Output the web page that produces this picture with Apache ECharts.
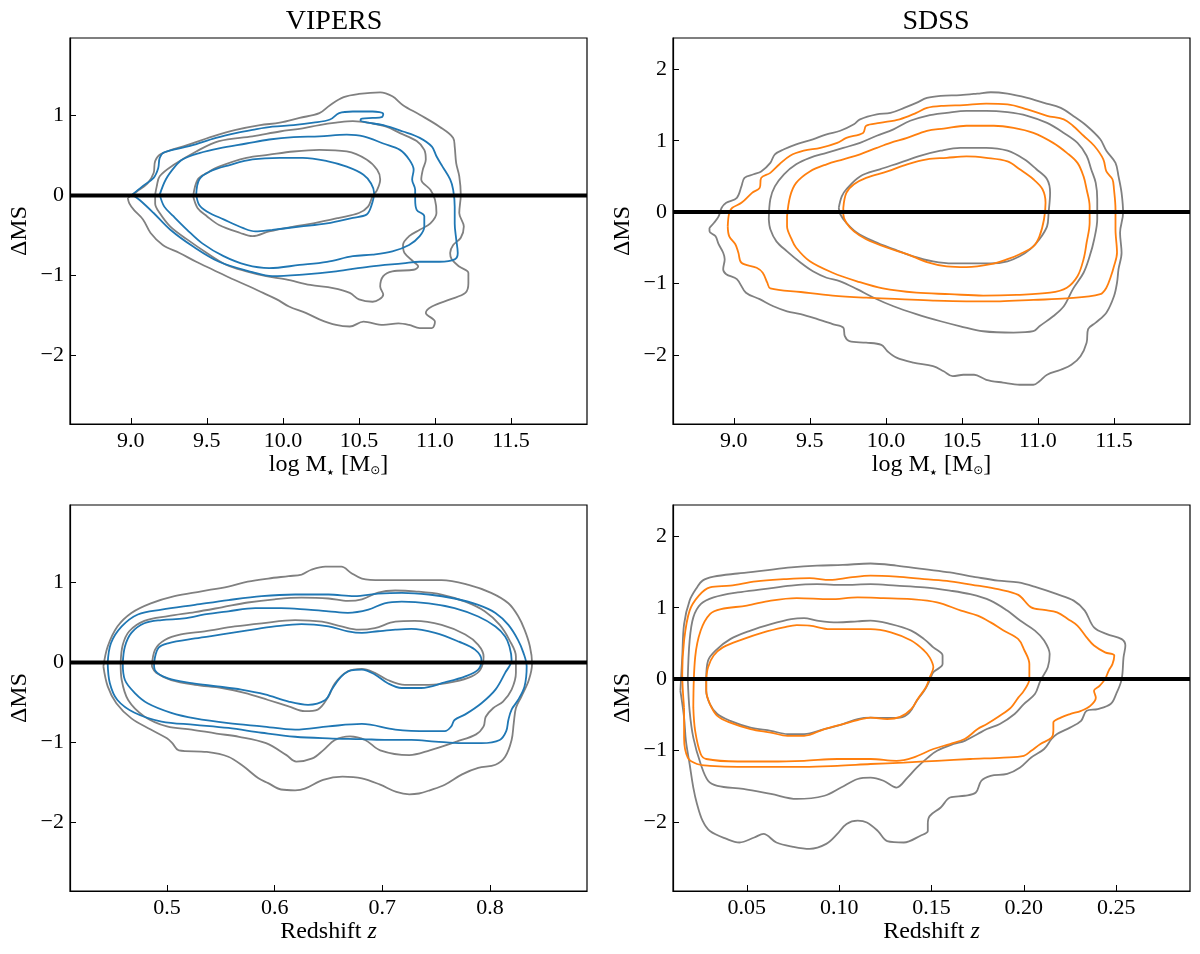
<!DOCTYPE html>
<html>
<head>
<meta charset="utf-8">
<title>Delta MS contours</title>
<script src="https://cdn.jsdelivr.net/npm/echarts@6/dist/echarts.min.js"></script>
<style>
  html, body { margin: 0; padding: 0; background: #fff; }
  #main { width: 1200px; height: 954px; }
</style>
</head>
<body>
<div id="main"></div>
<script>
// tick values
var massTicks = [9.0, 9.5, 10.0, 10.5, 11.0, 11.5];
var vipersZTicks = [0.5, 0.6, 0.7, 0.8];
var sdssZTicks = [0.05, 0.10, 0.15, 0.20, 0.25];
var vipersMsTicks = [-2, -1, 0, 1];
var sdssMsTicks = [-2, -1, 0, 1, 2];

// VIPERS, stellar mass (gray = outer/middle/inner, blue = outer/middle/inner)
var vMassGray1 = [[8.98,-0.03],[9.04,0.05],[9.11,0.15],[9.15,0.28],[9.16,0.43],[9.20,0.52],[9.37,0.63],[9.54,0.74],[9.69,0.82],[9.85,0.88],[9.98,0.91],[10.11,0.97],[10.24,1.03],[10.31,1.13],[10.40,1.23],[10.50,1.27],[10.64,1.29],[10.72,1.24],[10.79,1.13],[10.90,1.01],[11.03,0.86],[11.12,0.72],[11.13,0.61],[11.14,0.40],[11.16,0.24],[11.17,0.01],[11.16,-0.22],[11.19,-0.39],[11.17,-0.53],[11.12,-0.62],[11.10,-0.72],[11.11,-0.80],[11.16,-0.89],[11.22,-0.97],[11.22,-1.10],[11.20,-1.22],[11.10,-1.30],[10.98,-1.39],[10.94,-1.47],[11.00,-1.58],[10.98,-1.66],[10.90,-1.66],[10.83,-1.62],[10.76,-1.60],[10.66,-1.62],[10.53,-1.58],[10.44,-1.64],[10.35,-1.62],[10.24,-1.55],[10.15,-1.47],[10.04,-1.39],[9.96,-1.30],[9.87,-1.22],[9.78,-1.14],[9.65,-1.03],[9.54,-0.93],[9.43,-0.83],[9.32,-0.72],[9.21,-0.62],[9.13,-0.47],[9.08,-0.30],[9.02,-0.18],[8.99,-0.10]];
var vMassGray2 = [[9.16,0.01],[9.17,0.11],[9.19,0.24],[9.28,0.38],[9.43,0.55],[9.58,0.68],[9.80,0.74],[9.98,0.80],[10.13,0.84],[10.24,0.88],[10.35,0.91],[10.46,0.93],[10.59,0.90],[10.68,0.86],[10.77,0.78],[10.88,0.68],[10.93,0.57],[10.94,0.45],[10.92,0.32],[10.91,0.20],[10.97,0.07],[11.00,-0.05],[11.01,-0.22],[10.97,-0.35],[10.90,-0.43],[10.83,-0.51],[10.79,-0.62],[10.80,-0.72],[10.86,-0.83],[10.89,-0.89],[10.86,-0.93],[10.72,-0.95],[10.66,-1.01],[10.64,-1.14],[10.66,-1.24],[10.59,-1.33],[10.50,-1.30],[10.44,-1.22],[10.33,-1.16],[10.18,-1.12],[10.02,-1.05],[9.89,-1.01],[9.76,-0.95],[9.63,-0.87],[9.50,-0.72],[9.37,-0.55],[9.26,-0.39],[9.19,-0.22],[9.16,-0.10]];
var vMassGray3 = [[9.41,-0.01],[9.44,0.20],[9.50,0.28],[9.58,0.36],[9.76,0.47],[9.91,0.51],[10.07,0.55],[10.24,0.57],[10.42,0.55],[10.55,0.45],[10.62,0.32],[10.64,0.20],[10.62,0.07],[10.59,-0.01],[10.56,-0.14],[10.50,-0.22],[10.37,-0.28],[10.20,-0.35],[10.07,-0.39],[9.91,-0.45],[9.80,-0.51],[9.72,-0.47],[9.58,-0.37],[9.50,-0.26],[9.44,-0.16]];
var vMassBlue1 = [[9.01,0.01],[9.08,0.12],[9.15,0.22],[9.18,0.34],[9.19,0.47],[9.22,0.54],[9.39,0.62],[9.56,0.72],[9.69,0.78],[9.80,0.82],[9.93,0.86],[10.07,0.88],[10.20,0.91],[10.31,0.95],[10.37,1.03],[10.46,1.05],[10.59,1.05],[10.66,1.02],[10.65,0.98],[10.59,0.97],[10.52,0.96],[10.51,0.94],[10.56,0.91],[10.66,0.88],[10.79,0.80],[10.90,0.72],[10.98,0.61],[11.01,0.49],[11.05,0.36],[11.10,0.20],[11.12,0.07],[11.13,-0.14],[11.13,-0.35],[11.14,-0.55],[11.15,-0.72],[11.13,-0.80],[11.03,-0.83],[10.90,-0.83],[10.79,-0.85],[10.57,-0.89],[10.35,-0.95],[10.13,-0.99],[9.93,-1.01],[9.80,-0.96],[9.58,-0.83],[9.41,-0.64],[9.26,-0.43],[9.15,-0.22],[9.06,-0.06]];
var vMassBlue2 = [[9.19,0.01],[9.23,0.20],[9.29,0.36],[9.34,0.45],[9.45,0.53],[9.58,0.59],[9.76,0.65],[9.91,0.70],[10.07,0.73],[10.24,0.74],[10.42,0.76],[10.53,0.74],[10.66,0.65],[10.77,0.57],[10.83,0.45],[10.86,0.32],[10.85,0.20],[10.87,0.07],[10.87,-0.05],[10.88,-0.18],[10.93,-0.26],[10.93,-0.39],[10.90,-0.51],[10.83,-0.62],[10.72,-0.70],[10.59,-0.74],[10.46,-0.76],[10.29,-0.83],[10.11,-0.87],[9.91,-0.91],[9.76,-0.87],[9.61,-0.76],[9.47,-0.60],[9.37,-0.43],[9.28,-0.26],[9.22,-0.14]];
var vMassBlue3 = [[9.43,0.01],[9.45,0.20],[9.52,0.30],[9.65,0.38],[9.80,0.45],[9.98,0.47],[10.13,0.47],[10.29,0.43],[10.42,0.36],[10.53,0.26],[10.58,0.15],[10.60,0.03],[10.58,-0.14],[10.55,-0.24],[10.46,-0.28],[10.29,-0.35],[10.11,-0.39],[9.93,-0.43],[9.82,-0.45],[9.74,-0.41],[9.61,-0.30],[9.50,-0.20],[9.45,-0.12]];

// SDSS, stellar mass (gray, orange)
var sMassGray1 = [[8.84,-0.22],[8.87,-0.15],[8.90,-0.06],[8.92,0.06],[8.95,0.13],[9.02,0.20],[9.05,0.36],[9.07,0.48],[9.13,0.53],[9.18,0.57],[9.24,0.69],[9.27,0.81],[9.33,0.88],[9.41,0.95],[9.52,1.02],[9.61,1.09],[9.70,1.14],[9.79,1.23],[9.83,1.30],[9.94,1.37],[10.03,1.39],[10.12,1.46],[10.20,1.53],[10.27,1.60],[10.36,1.63],[10.49,1.64],[10.60,1.66],[10.69,1.68],[10.80,1.66],[10.93,1.60],[11.04,1.53],[11.15,1.46],[11.23,1.35],[11.32,1.21],[11.41,1.02],[11.45,0.86],[11.51,0.69],[11.53,0.50],[11.55,0.27],[11.56,-0.01],[11.54,-0.29],[11.55,-0.57],[11.53,-0.80],[11.52,-0.99],[11.50,-1.18],[11.45,-1.41],[11.38,-1.55],[11.33,-1.64],[11.32,-1.83],[11.28,-2.02],[11.22,-2.14],[11.15,-2.21],[11.06,-2.28],[11.01,-2.37],[10.97,-2.42],[10.88,-2.42],[10.77,-2.39],[10.66,-2.35],[10.58,-2.28],[10.51,-2.28],[10.44,-2.30],[10.38,-2.23],[10.31,-2.16],[10.18,-2.11],[10.07,-2.04],[10.01,-1.95],[9.97,-1.86],[9.87,-1.83],[9.76,-1.81],[9.73,-1.74],[9.72,-1.62],[9.65,-1.57],[9.55,-1.50],[9.44,-1.43],[9.35,-1.39],[9.26,-1.32],[9.17,-1.22],[9.08,-1.13],[9.02,-0.94],[8.95,-0.87],[8.93,-0.80],[8.94,-0.66],[8.93,-0.57],[8.90,-0.45],[8.88,-0.34],[8.84,-0.27]];
var sMassGray2 = [[9.23,-0.10],[9.24,0.18],[9.27,0.36],[9.33,0.53],[9.41,0.67],[9.50,0.76],[9.61,0.83],[9.72,0.90],[9.83,0.97],[9.94,1.07],[10.05,1.16],[10.16,1.28],[10.27,1.35],[10.40,1.39],[10.53,1.42],[10.66,1.42],[10.80,1.40],[10.93,1.35],[11.06,1.25],[11.17,1.11],[11.26,0.97],[11.32,0.79],[11.35,0.60],[11.38,0.41],[11.39,0.18],[11.39,-0.10],[11.37,-0.38],[11.34,-0.62],[11.30,-0.85],[11.23,-1.08],[11.17,-1.32],[11.10,-1.46],[11.01,-1.60],[10.97,-1.67],[10.84,-1.69],[10.64,-1.67],[10.49,-1.60],[10.36,-1.53],[10.20,-1.43],[10.05,-1.32],[9.92,-1.20],[9.81,-1.08],[9.70,-0.97],[9.61,-0.92],[9.52,-0.83],[9.44,-0.71],[9.35,-0.55],[9.28,-0.41],[9.24,-0.24]];
var sMassGray3 = [[9.69,0.06],[9.71,0.22],[9.74,0.32],[9.83,0.50],[9.96,0.60],[10.09,0.69],[10.23,0.79],[10.36,0.86],[10.49,0.90],[10.66,0.90],[10.80,0.86],[10.91,0.74],[10.99,0.60],[11.06,0.46],[11.08,0.27],[11.07,-0.01],[11.06,-0.20],[11.01,-0.38],[10.95,-0.52],[10.88,-0.62],[10.80,-0.69],[10.69,-0.72],[10.58,-0.72],[10.44,-0.72],[10.31,-0.69],[10.18,-0.62],[10.05,-0.52],[9.92,-0.41],[9.81,-0.29],[9.74,-0.15],[9.70,-0.03]];
var sMassOrange1 = [[8.96,-0.20],[8.97,-0.01],[8.99,0.06],[9.05,0.13],[9.12,0.27],[9.17,0.34],[9.18,0.48],[9.24,0.55],[9.30,0.67],[9.37,0.79],[9.46,0.86],[9.57,0.90],[9.68,0.97],[9.74,1.04],[9.85,1.11],[9.87,1.21],[9.96,1.25],[10.09,1.30],[10.20,1.39],[10.27,1.46],[10.38,1.49],[10.51,1.50],[10.66,1.52],[10.80,1.51],[10.93,1.44],[11.06,1.35],[11.17,1.30],[11.23,1.21],[11.30,1.07],[11.37,0.93],[11.43,0.74],[11.45,0.57],[11.49,0.46],[11.50,0.32],[11.51,0.04],[11.51,-0.24],[11.52,-0.57],[11.50,-0.76],[11.48,-0.90],[11.45,-1.06],[11.41,-1.15],[11.19,-1.21],[10.97,-1.23],[10.75,-1.25],[10.53,-1.25],[10.31,-1.24],[10.09,-1.22],[9.87,-1.20],[9.65,-1.17],[9.44,-1.12],[9.24,-1.07],[9.22,-0.99],[9.19,-0.85],[9.15,-0.78],[9.05,-0.71],[9.03,-0.57],[9.01,-0.45],[8.97,-0.34]];
var sMassOrange2 = [[9.35,-0.06],[9.37,0.22],[9.41,0.41],[9.50,0.57],[9.61,0.67],[9.72,0.74],[9.83,0.81],[9.94,0.90],[10.03,0.97],[10.14,1.04],[10.27,1.14],[10.38,1.17],[10.53,1.21],[10.71,1.21],[10.84,1.18],[10.97,1.11],[11.10,0.97],[11.19,0.83],[11.26,0.69],[11.30,0.50],[11.32,0.32],[11.34,0.08],[11.34,-0.15],[11.32,-0.43],[11.30,-0.66],[11.26,-0.90],[11.19,-1.06],[11.08,-1.13],[10.86,-1.16],[10.64,-1.17],[10.42,-1.15],[10.20,-1.13],[9.98,-1.07],[9.81,-0.97],[9.65,-0.85],[9.50,-0.69],[9.41,-0.50],[9.38,-0.38],[9.35,-0.20]];
var sMassOrange3 = [[9.72,0.06],[9.74,0.27],[9.79,0.39],[9.87,0.48],[10.01,0.57],[10.14,0.67],[10.27,0.74],[10.40,0.76],[10.53,0.78],[10.66,0.76],[10.80,0.71],[10.88,0.60],[10.97,0.46],[11.03,0.32],[11.05,0.13],[11.04,-0.10],[11.01,-0.34],[10.97,-0.48],[10.88,-0.59],[10.80,-0.66],[10.69,-0.73],[10.53,-0.77],[10.40,-0.76],[10.27,-0.70],[10.14,-0.59],[10.01,-0.50],[9.87,-0.38],[9.79,-0.27],[9.74,-0.15],[9.72,-0.03]];

// VIPERS, redshift
var vZGray1 = [[0.441,-0.05],[0.445,0.20],[0.454,0.45],[0.467,0.62],[0.485,0.74],[0.507,0.83],[0.532,0.89],[0.557,0.95],[0.575,1.01],[0.594,1.05],[0.613,1.08],[0.625,1.10],[0.634,1.16],[0.647,1.20],[0.662,1.20],[0.671,1.12],[0.681,1.05],[0.699,1.03],[0.727,1.03],[0.755,1.03],[0.780,0.97],[0.801,0.87],[0.817,0.74],[0.826,0.58],[0.832,0.41],[0.837,0.20],[0.839,-0.01],[0.836,-0.22],[0.829,-0.43],[0.824,-0.57],[0.822,-0.76],[0.820,-0.97],[0.814,-1.18],[0.805,-1.28],[0.789,-1.32],[0.774,-1.40],[0.758,-1.53],[0.744,-1.60],[0.734,-1.64],[0.725,-1.65],[0.713,-1.62],[0.698,-1.53],[0.681,-1.45],[0.663,-1.43],[0.645,-1.47],[0.628,-1.58],[0.619,-1.60],[0.606,-1.59],[0.594,-1.51],[0.585,-1.45],[0.571,-1.30],[0.557,-1.18],[0.537,-1.12],[0.511,-1.10],[0.505,-1.01],[0.500,-0.95],[0.485,-0.84],[0.467,-0.70],[0.453,-0.51],[0.445,-0.30]];
var vZGray2 = [[0.457,-0.01],[0.459,0.22],[0.465,0.39],[0.479,0.52],[0.501,0.58],[0.526,0.63],[0.551,0.69],[0.575,0.75],[0.600,0.79],[0.625,0.81],[0.650,0.80],[0.668,0.77],[0.681,0.79],[0.696,0.875],[0.712,0.90],[0.730,0.89],[0.755,0.85],[0.777,0.76],[0.795,0.64],[0.809,0.47],[0.818,0.28],[0.824,0.075],[0.824,-0.13],[0.820,-0.34],[0.812,-0.49],[0.803,-0.57],[0.796,-0.68],[0.794,-0.80],[0.787,-0.90],[0.769,-0.99],[0.744,-1.10],[0.725,-1.16],[0.698,-1.10],[0.684,-0.97],[0.670,-0.925],[0.656,-0.97],[0.645,-1.10],[0.635,-1.20],[0.620,-1.24],[0.611,-1.16],[0.592,-1.01],[0.567,-0.93],[0.546,-0.89],[0.523,-0.84],[0.500,-0.80],[0.479,-0.675],[0.464,-0.47],[0.458,-0.22]];
var vZGray3 = [[0.486,-0.05],[0.489,0.16],[0.498,0.28],[0.513,0.35],[0.535,0.39],[0.563,0.45],[0.588,0.49],[0.619,0.53],[0.644,0.51],[0.662,0.45],[0.678,0.41],[0.693,0.43],[0.712,0.51],[0.730,0.52],[0.755,0.47],[0.777,0.35],[0.789,0.22],[0.794,0.075],[0.791,-0.09],[0.783,-0.175],[0.767,-0.24],[0.743,-0.28],[0.721,-0.28],[0.705,-0.22],[0.693,-0.13],[0.681,-0.08],[0.668,-0.11],[0.656,-0.26],[0.650,-0.425],[0.640,-0.59],[0.628,-0.61],[0.613,-0.55],[0.594,-0.47],[0.572,-0.38],[0.551,-0.32],[0.526,-0.28],[0.504,-0.22],[0.490,-0.13]];
var vZBlue1 = [[0.445,-0.01],[0.448,0.24],[0.458,0.45],[0.473,0.60],[0.495,0.66],[0.526,0.72],[0.557,0.78],[0.588,0.83],[0.619,0.85],[0.650,0.85],[0.674,0.83],[0.696,0.86],[0.718,0.87],[0.743,0.85],[0.767,0.80],[0.789,0.72],[0.805,0.62],[0.817,0.47],[0.826,0.28],[0.831,0.12],[0.834,-0.05],[0.832,-0.30],[0.826,-0.47],[0.820,-0.59],[0.817,-0.72],[0.815,-0.86],[0.809,-0.97],[0.792,-1.01],[0.774,-1.01],[0.749,-0.99],[0.727,-0.97],[0.705,-0.97],[0.681,-0.96],[0.650,-0.95],[0.619,-0.93],[0.588,-0.88],[0.557,-0.82],[0.526,-0.78],[0.495,-0.74],[0.470,-0.63],[0.454,-0.47],[0.447,-0.26]];
var vZBlue2 = [[0.459,-0.01],[0.461,0.20],[0.467,0.37],[0.479,0.49],[0.495,0.53],[0.516,0.55],[0.535,0.60],[0.557,0.64],[0.582,0.68],[0.606,0.68],[0.631,0.66],[0.650,0.64],[0.668,0.62],[0.687,0.66],[0.702,0.74],[0.718,0.76],[0.743,0.74],[0.767,0.68],[0.789,0.575],[0.805,0.45],[0.814,0.325],[0.818,0.20],[0.820,0.03],[0.814,-0.13],[0.805,-0.34],[0.792,-0.51],[0.777,-0.65],[0.767,-0.72],[0.764,-0.80],[0.758,-0.86],[0.743,-0.86],[0.712,-0.84],[0.681,-0.77],[0.650,-0.80],[0.619,-0.84],[0.588,-0.80],[0.557,-0.76],[0.526,-0.70],[0.504,-0.63],[0.482,-0.51],[0.470,-0.38],[0.461,-0.22]];
var vZBlue3 = [[0.488,-0.01],[0.492,0.18],[0.501,0.24],[0.526,0.30],[0.551,0.35],[0.575,0.40],[0.600,0.45],[0.625,0.48],[0.650,0.45],[0.668,0.39],[0.681,0.37],[0.696,0.39],[0.712,0.41],[0.727,0.42],[0.749,0.37],[0.771,0.26],[0.786,0.16],[0.792,0.03],[0.789,-0.09],[0.777,-0.175],[0.758,-0.25],[0.736,-0.32],[0.718,-0.32],[0.705,-0.26],[0.693,-0.15],[0.681,-0.09],[0.671,-0.10],[0.662,-0.175],[0.653,-0.34],[0.647,-0.47],[0.631,-0.53],[0.613,-0.49],[0.591,-0.40],[0.569,-0.34],[0.547,-0.30],[0.523,-0.26],[0.501,-0.20],[0.489,-0.10]];

// SDSS, redshift
var sZGray1 = [[0.014,-0.165],[0.015,0.305],[0.016,0.77],[0.019,1.10],[0.023,1.285],[0.026,1.38],[0.032,1.435],[0.045,1.48],[0.059,1.52],[0.074,1.565],[0.088,1.59],[0.102,1.60],[0.117,1.62],[0.131,1.59],[0.146,1.54],[0.160,1.495],[0.175,1.425],[0.186,1.38],[0.197,1.355],[0.207,1.285],[0.218,1.19],[0.227,1.10],[0.233,0.96],[0.238,0.725],[0.245,0.63],[0.253,0.56],[0.255,0.47],[0.254,0.305],[0.253,0.0],[0.250,-0.21],[0.247,-0.35],[0.240,-0.42],[0.234,-0.445],[0.231,-0.585],[0.225,-0.68],[0.218,-0.77],[0.215,-0.84],[0.211,-0.98],[0.204,-1.10],[0.198,-1.24],[0.191,-1.33],[0.182,-1.355],[0.177,-1.425],[0.174,-1.59],[0.168,-1.635],[0.160,-1.66],[0.155,-1.80],[0.149,-1.92],[0.148,-2.03],[0.148,-2.13],[0.144,-2.195],[0.135,-2.29],[0.126,-2.27],[0.121,-2.13],[0.115,-2.01],[0.110,-1.985],[0.104,-2.03],[0.099,-2.17],[0.093,-2.31],[0.084,-2.38],[0.075,-2.35],[0.066,-2.29],[0.059,-2.17],[0.054,-2.22],[0.046,-2.29],[0.039,-2.24],[0.030,-2.13],[0.026,-1.985],[0.023,-1.75],[0.021,-1.52],[0.019,-1.19],[0.017,-0.865],[0.016,-0.54]];
var sZGray2 = [[0.018,0.0],[0.019,0.54],[0.021,0.865],[0.025,1.05],[0.032,1.145],[0.045,1.215],[0.059,1.26],[0.074,1.31],[0.088,1.33],[0.102,1.32],[0.117,1.33],[0.131,1.31],[0.146,1.285],[0.160,1.24],[0.171,1.19],[0.182,1.10],[0.191,0.96],[0.198,0.82],[0.206,0.68],[0.211,0.54],[0.214,0.35],[0.213,0.165],[0.209,-0.02],[0.206,-0.21],[0.200,-0.35],[0.195,-0.49],[0.187,-0.63],[0.180,-0.70],[0.175,-0.77],[0.168,-0.865],[0.162,-0.91],[0.153,-1.005],[0.148,-1.10],[0.142,-1.24],[0.137,-1.38],[0.131,-1.52],[0.124,-1.425],[0.117,-1.38],[0.110,-1.40],[0.101,-1.52],[0.092,-1.635],[0.077,-1.68],[0.063,-1.61],[0.048,-1.54],[0.034,-1.495],[0.029,-1.425],[0.025,-1.19],[0.021,-0.82],[0.019,-0.445]];
var sZGray3 = [[0.028,0.0],[0.029,0.26],[0.033,0.40],[0.041,0.56],[0.052,0.68],[0.063,0.77],[0.074,0.84],[0.081,0.855],[0.088,0.82],[0.099,0.795],[0.110,0.81],[0.117,0.82],[0.128,0.77],[0.139,0.68],[0.146,0.56],[0.151,0.445],[0.156,0.33],[0.156,0.21],[0.151,0.095],[0.149,-0.02],[0.146,-0.165],[0.142,-0.305],[0.138,-0.47],[0.133,-0.54],[0.126,-0.545],[0.117,-0.54],[0.110,-0.56],[0.102,-0.63],[0.092,-0.70],[0.081,-0.77],[0.072,-0.77],[0.063,-0.725],[0.052,-0.68],[0.041,-0.585],[0.034,-0.49],[0.030,-0.35],[0.028,-0.165]];
var sZOrange1 = [[0.016,-0.40],[0.015,0.07],[0.016,0.54],[0.019,0.96],[0.024,1.17],[0.030,1.285],[0.041,1.31],[0.055,1.37],[0.070,1.40],[0.084,1.415],[0.095,1.39],[0.106,1.425],[0.117,1.45],[0.131,1.435],[0.146,1.40],[0.160,1.37],[0.175,1.31],[0.186,1.26],[0.197,1.18],[0.204,1.005],[0.211,0.97],[0.218,0.935],[0.224,0.84],[0.229,0.75],[0.234,0.585],[0.238,0.47],[0.244,0.375],[0.249,0.33],[0.248,0.21],[0.246,0.12],[0.244,0.0],[0.241,-0.095],[0.238,-0.165],[0.239,-0.26],[0.236,-0.375],[0.231,-0.445],[0.225,-0.49],[0.220,-0.54],[0.216,-0.61],[0.216,-0.725],[0.215,-0.82],[0.209,-0.91],[0.204,-1.005],[0.200,-1.075],[0.189,-1.10],[0.171,-1.12],[0.153,-1.145],[0.135,-1.17],[0.117,-1.19],[0.099,-1.215],[0.081,-1.23],[0.063,-1.23],[0.045,-1.23],[0.030,-1.215],[0.023,-1.19],[0.018,-1.10],[0.016,-0.82]];
var sZOrange2 = [[0.021,-0.40],[0.022,0.305],[0.025,0.68],[0.030,0.91],[0.036,0.98],[0.050,1.03],[0.063,1.10],[0.077,1.135],[0.095,1.12],[0.110,1.145],[0.124,1.135],[0.139,1.12],[0.153,1.075],[0.166,0.96],[0.175,0.89],[0.182,0.795],[0.189,0.68],[0.197,0.56],[0.200,0.42],[0.203,0.21],[0.203,0.0],[0.200,-0.165],[0.197,-0.26],[0.193,-0.40],[0.187,-0.515],[0.180,-0.63],[0.175,-0.70],[0.168,-0.84],[0.160,-0.91],[0.151,-0.98],[0.140,-1.10],[0.131,-1.145],[0.117,-1.12],[0.099,-1.12],[0.081,-1.145],[0.063,-1.155],[0.045,-1.155],[0.028,-1.12],[0.025,-1.05],[0.022,-0.725]];
var sZOrange3 = [[0.028,0.0],[0.029,0.165],[0.032,0.33],[0.037,0.445],[0.048,0.56],[0.059,0.655],[0.070,0.725],[0.077,0.757],[0.084,0.75],[0.095,0.70],[0.106,0.70],[0.117,0.70],[0.128,0.655],[0.139,0.54],[0.146,0.40],[0.149,0.305],[0.151,0.165],[0.149,0.02],[0.147,-0.115],[0.143,-0.26],[0.139,-0.42],[0.133,-0.53],[0.126,-0.56],[0.117,-0.54],[0.110,-0.575],[0.102,-0.63],[0.092,-0.70],[0.081,-0.795],[0.072,-0.795],[0.063,-0.75],[0.052,-0.70],[0.041,-0.61],[0.034,-0.515],[0.030,-0.35],[0.028,-0.165]];

var GRAY = '#808080', BLUE = '#1f77b4', ORANGE = '#ff7f0e';
var FONT = '"Liberation Serif", "DejaVu Serif", serif';
var MINUS = '\u2212';
var MASS_NAME = 'log M{star|\u2605} [M{sun|\u2299}]';
var Z_NAME = 'Redshift {it|z}';

// panel boxes (left, top) and axis ranges
var panels = [
    { left: 70, top: 38, xMin: 8.6, xMax: 12.0, yMin: -2.86, yMax: 1.97, xTicks: massTicks, yTicks: vipersMsTicks, dec: 1, xName: MASS_NAME },
    { left: 673, top: 38, xMin: 8.6, xMax: 12.0, yMin: -2.97, yMax: 2.44, xTicks: massTicks, yTicks: sdssMsTicks, dec: 1, xName: MASS_NAME },
    { left: 70, top: 505, xMin: 0.41, xMax: 0.89, yMin: -2.86, yMax: 1.97, xTicks: vipersZTicks, yTicks: vipersMsTicks, dec: 1, xName: Z_NAME },
    { left: 673, top: 505, xMin: 0.01, xMax: 0.29, yMin: -2.97, yMax: 2.44, xTicks: sdssZTicks, yTicks: sdssMsTicks, dec: 2, xName: Z_NAME }
];

function closeLoop(pts) {
    return pts.concat([pts[0]]);
}

var grids = [], xAxes = [], yAxes = [], series = [];

panels.forEach(function (p, i) {
    grids.push({
        left: p.left, top: p.top, width: 517, height: 386,
        show: true, borderColor: '#000', borderWidth: 1.2, containLabel: false
    });
    xAxes.push({
        type: 'value', gridIndex: i, min: p.xMin, max: p.xMax,
        name: p.xName, nameLocation: 'middle', nameGap: 27,
        nameTextStyle: {
            fontFamily: FONT, fontSize: 24, color: '#000',
            rich: {
                star: { fontFamily: 'DejaVu Sans', fontSize: 8, verticalAlign: 'bottom', padding: [12, 1, 0, 0] },
                sun: { fontFamily: 'DejaVu Sans', fontSize: 12, verticalAlign: 'bottom', padding: [12, 0, 0, 0] },
                it: { fontFamily: FONT, fontSize: 24, fontStyle: 'italic' }
            }
        },
        axisLine: { show: true, onZero: false, lineStyle: { color: '#000', width: 1.2 } },
        axisTick: { show: true, inside: true, length: 6, customValues: p.xTicks, lineStyle: { color: '#000', width: 1 } },
        axisLabel: {
            show: true, customValues: p.xTicks, margin: 6,
            fontFamily: FONT, fontSize: 22, color: '#000',
            formatter: function (v) { return v.toFixed(p.dec); }
        },
        splitLine: { show: false }
    });
    yAxes.push({
        type: 'value', gridIndex: i, min: p.yMin, max: p.yMax,
        name: '\u0394MS', nameLocation: 'middle', nameGap: 38,
        nameTextStyle: { fontFamily: FONT, fontSize: 24, color: '#000' },
        axisLine: { show: true, onZero: false, lineStyle: { color: '#000', width: 1.2 } },
        axisTick: { show: true, inside: true, length: 6, customValues: p.yTicks, lineStyle: { color: '#000', width: 1 } },
        axisLabel: {
            show: true, customValues: p.yTicks, margin: 6,
            fontFamily: FONT, fontSize: 22, color: '#000',
            formatter: function (v) { return v < 0 ? MINUS + Math.abs(v) : String(v); }
        },
        splitLine: { show: false }
    });
});

function contour(pts, color, idx) {
    return {
        type: 'line', xAxisIndex: idx, yAxisIndex: idx,
        data: closeLoop(pts), smooth: 0.35, symbol: 'none', showSymbol: false,
        lineStyle: { color: color, width: 1.8 }, silent: true, z: color === GRAY ? 2 : 3
    };
}

var panelContours = [
    [[vMassGray1, GRAY], [vMassGray2, GRAY], [vMassGray3, GRAY], [vMassBlue1, BLUE], [vMassBlue2, BLUE], [vMassBlue3, BLUE]],
    [[sMassGray1, GRAY], [sMassGray2, GRAY], [sMassGray3, GRAY], [sMassOrange1, ORANGE], [sMassOrange2, ORANGE], [sMassOrange3, ORANGE]],
    [[vZGray1, GRAY], [vZGray2, GRAY], [vZGray3, GRAY], [vZBlue1, BLUE], [vZBlue2, BLUE], [vZBlue3, BLUE]],
    [[sZGray1, GRAY], [sZGray2, GRAY], [sZGray3, GRAY], [sZOrange1, ORANGE], [sZOrange2, ORANGE], [sZOrange3, ORANGE]]
];

panelContours.forEach(function (list, i) {
    list.forEach(function (c) { series.push(contour(c[0], c[1], i)); });
    // main sequence line at zero
    series.push({
        type: 'line', xAxisIndex: i, yAxisIndex: i,
        data: [[panels[i].xMin, 0], [panels[i].xMax, 0]],
        symbol: 'none', lineStyle: { color: '#000', width: 4 }, silent: true, z: 5
    });
});

var chart = echarts.init(document.getElementById('main'), null, { renderer: 'canvas' });
chart.setOption({
    backgroundColor: '#fff',
    animation: false,
    title: [
        { text: 'VIPERS', left: 329, top: 3, textAlign: 'center', textStyle: { fontFamily: FONT, fontSize: 28, fontWeight: 'normal', color: '#000' } },
        { text: 'SDSS', left: 931, top: 3, textAlign: 'center', textStyle: { fontFamily: FONT, fontSize: 28, fontWeight: 'normal', color: '#000' } }
    ],
    grid: grids,
    xAxis: xAxes,
    yAxis: yAxes,
    series: series
});
</script>
</body>
</html>
